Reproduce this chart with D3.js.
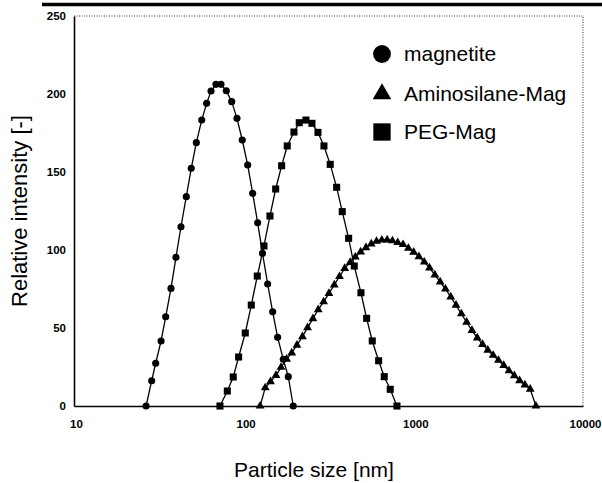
<!DOCTYPE html>
<html>
<head>
<meta charset="utf-8">
<script src="https://cdn.jsdelivr.net/npm/d3@7"></script>
<style>
  html, body { margin: 0; padding: 0; background: #fff; }
  svg { display: block; }
</style>
</head>
<body>
<div id="chart"></div>
<script>
{
    // canvas setup
    const width = 602, height = 483;
    const svg = d3.select("#chart")
        .append("svg")
        .attr("width", width)
        .attr("height", height);

    // data (size in nm, relative intensity)
    const magnetiteSize = [26.6, 28.7, 30.3, 32.6, 34.7, 37.3, 39.9, 42.7, 45.9, 49.1,
                           52.6, 56.6, 60.5, 64.2, 68.7, 73.5, 79.0, 85.0, 91.3, 98.1,
                           105.6, 113, 120.9, 129.1, 138.5, 148.2, 158.6, 171.2, 183.2, 196.0];
    const magnetiteValue = [0, 16.2, 27.4, 41.7, 57.2, 75.4, 95.3, 114.9, 134.2, 152.4,
                            168.8, 183.3, 194, 201.9, 206.2, 206.2, 202.1, 195.1, 184.4, 170.5,
                            154.5, 136.3, 117.5, 97.9, 78.2, 60.4, 44.0, 29.9, 18.8, 0];

    const aminoSize = [125, 134, 144, 155, 166, 179, 192, 206, 222, 238,
                       256, 275, 296, 318, 342, 367, 394, 424, 455, 489,
                       526, 565, 607, 652, 701, 753, 809, 870, 935, 1004,
                       1079, 1160, 1246, 1339, 1439, 1546, 1662, 1785, 1919, 2062,
                       2215, 2381, 2558, 2748, 2954, 3174, 3410, 3664, 3938, 4231,
                       4547, 4886, 5278];
    const aminoValue = [0, 11.7, 15.6, 19.6, 24.8, 30.0, 34.0, 39.0, 44.5, 50.2,
                        56.0, 61.8, 66.8, 72.2, 77.6, 83.0, 88.2, 92.1, 95.5, 98.8,
                        101.5, 103.9, 105.6, 106.4, 106.5, 105.9, 104.8, 103.5, 101.1, 98.6,
                        95.7, 92.3, 88.5, 84.0, 79.5, 75.0, 69.9, 64.6, 59.1, 53.7,
                        48.5, 43.7, 39.5, 35.8, 32.5, 29.3, 26.0, 22.6, 19.4, 16.2,
                        13.5, 10.8, 0];

    const pegSize = [72.5, 80.1, 86.8, 93.4, 102.2, 110.9, 120.3, 131.7, 142.9, 154.4,
                     167.4, 180.7, 197.9, 212.6, 232.8, 252.6, 274.1, 297.3, 323.7, 353.2,
                     381.1, 415.6, 448.6, 491.2, 530.6, 572.6, 624.6, 673.9, 731.0, 800.7];
    const pegValue = [0, 9.6, 18.6, 31.4, 46.8, 64.7, 83.3, 102.6, 121.8, 139.1,
                      154, 166.7, 175.6, 181.6, 183.3, 181.2, 175.4, 166.7, 154.9, 140.2,
                      124.6, 107.5, 89.7, 72.6, 56.2, 41.7, 29.0, 18.8, 10.7, 0];

    const xTicks = [10, 100, 1000, 10000];
    const yTicks = [0, 50, 100, 150, 200, 250];
    const seriesNames = ["magnetite", "Aminosilane-Mag", "PEG-Mag"];

    const series = [
        { name: seriesNames[0], symbol: d3.symbolCircle, size: 40, legendSize: 250,
          pts: magnetiteSize.map((s, i) => ({ size: s, value: magnetiteValue[i] })) },
        { name: seriesNames[1], symbol: d3.symbolTriangle, size: 34, legendSize: 150,
          pts: aminoSize.map((s, i) => ({ size: s, value: aminoValue[i] })) },
        { name: seriesNames[2], symbol: d3.symbolSquare, size: 50, legendSize: 300,
          pts: pegSize.map((s, i) => ({ size: s, value: pegValue[i] })) }
    ];

    // plot area
    const left = 74, right = 583, top = 16, bottom = 406;
    const x = d3.scaleLog().domain([10, 10000]).range([left, right]);
    const y = d3.scaleLinear().domain([0, 250]).range([bottom, top]);

    // thick rule at the top of the page (scanned table border)
    svg.append("line")
        .attr("x1", 42).attr("x2", 602)
        .attr("y1", 4.5).attr("y2", 4.5)
        .attr("stroke", "#000")
        .attr("stroke-width", 3.5);

    // dotted top and right frame
    svg.append("path")
        .attr("d", `M${left},${top}H${right}V${bottom}`)
        .attr("fill", "none")
        .attr("stroke", "#333")
        .attr("stroke-width", 1)
        .attr("stroke-dasharray", "1,1.5");

    // axes
    const tickFont = "'Liberation Sans', Arial, sans-serif";
    const yAxis = svg.append("g")
        .attr("transform", `translate(${left},0)`)
        .call(d3.axisLeft(y).tickValues(yTicks).tickSize(0).tickPadding(8));
    const xAxis = svg.append("g")
        .attr("transform", `translate(0,${bottom})`)
        .call(d3.axisBottom(x).tickValues(xTicks).tickFormat(d3.format("d"))
            .tickSize(0).tickPadding(14));

    [yAxis, xAxis].forEach(g => {
        g.select(".domain").attr("stroke", "#000").attr("stroke-width", 1.6);
        g.selectAll("text")
            .attr("fill", "#000")
            .style("font-family", tickFont)
            .style("font-weight", "bold")
            .style("font-size", "11.5px");
    });
    xAxis.selectAll("text").attr("dx", 2);

    // axis titles
    svg.append("text")
        .attr("x", 314)
        .attr("y", 477)
        .attr("text-anchor", "middle")
        .style("font-family", tickFont)
        .style("font-size", "21px")
        .text("Particle size [nm]");

    svg.append("text")
        .attr("transform", "translate(27,211) rotate(-90)")
        .attr("text-anchor", "middle")
        .style("font-family", tickFont)
        .style("font-size", "22px")
        .text("Relative intensity [-]");

    // series lines and markers
    const line = d3.line()
        .x(d => x(d.size))
        .y(d => y(d.value));

    series.forEach(s => {
        svg.append("path")
            .datum(s.pts)
            .attr("d", line)
            .attr("fill", "none")
            .attr("stroke", "#000")
            .attr("stroke-width", 1.3);

        svg.append("g")
            .selectAll("path")
            .data(s.pts)
            .join("path")
            .attr("transform", d => `translate(${x(d.size)},${y(d.value)})`)
            .attr("d", d3.symbol(s.symbol, s.size))
            .attr("fill", "#000");
    });

    // legend
    const legendY = [54, 94, 132];
    const legend = svg.append("g");
    series.forEach((s, i) => {
        legend.append("path")
            .attr("transform", `translate(382,${legendY[i]})`)
            .attr("d", d3.symbol(s.symbol, s.legendSize))
            .attr("fill", "#000");
        legend.append("text")
            .attr("x", 404)
            .attr("y", legendY[i] + 7)
            .style("font-family", tickFont)
            .style("font-size", "21px")
            .text(s.name);
    });
}
</script>
</body>
</html>
